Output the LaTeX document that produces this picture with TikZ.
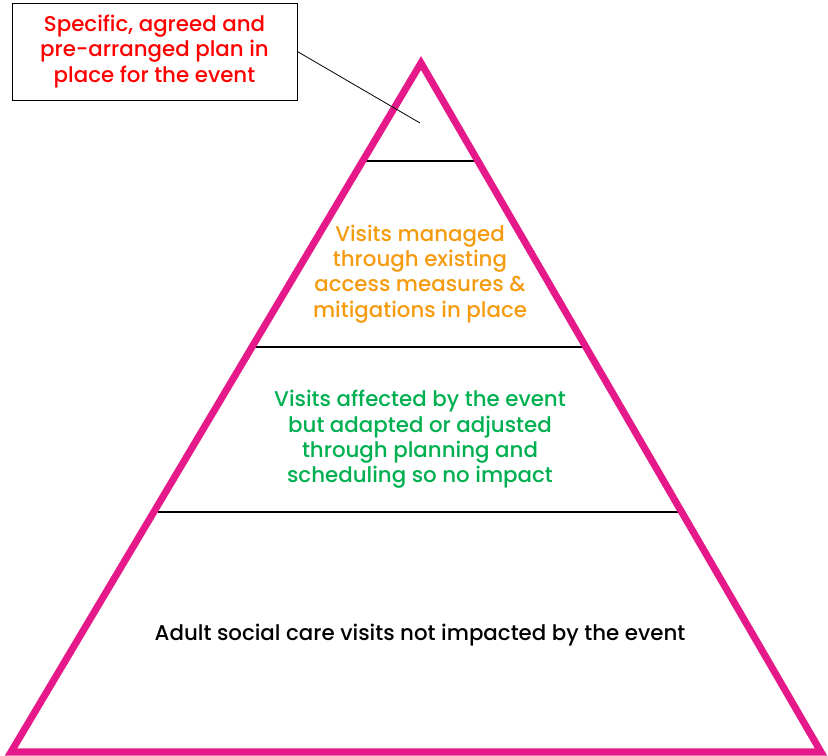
\documentclass[tikz,border=0pt]{standalone}
\usepackage{fontspec}
\setmainfont{Poppins}[UprightFont=* Medium]
\definecolor{pyrpink}{HTML}{E6198A}
\definecolor{tierorange}{HTML}{F59B0F}
\definecolor{tiergreen}{HTML}{00B050}
\begin{document}
\begin{tikzpicture}[x=0.0265cm,y=-0.0265cm]
\tikzstyle{tier}=[align=center,font=\fontsize{16.1}{19.1}\selectfont]
\tikzstyle{divider}=[line width=1.8pt]
\useasboundingbox (0,0) rectangle (828,756);

\coordinate (apex) at (421,63);
\coordinate (bl) at (11,752);
\coordinate (br) at (821,752);
\coordinate (tip) at (420,123);

\node[draw,line width=0.6pt,tier,text=red,minimum width=7.55cm,minimum height=2.57cm] at (154.5,51.5) (plan) {Specific, agreed and\\pre-arranged plan in\\place for the event};
\node[tier,text=tierorange] at (420,274) (managed) {Visits managed\\through existing\\access measures \&\\mitigations in place};
\node[tier,text=tiergreen] at (420,439.5) (adapted) {Visits affected by the event\\but adapted or adjusted\\through planning and\\scheduling so no impact};
\node[tier] at (420,635) (notimpacted) {Adult social care visits not impacted by the event};

\draw[divider] (365,161) -- (476,161);
\draw[divider] (255,347) -- (585,347);
\draw[divider] (158,512) -- (683,512);
\draw[line width=5.3pt,pyrpink,line join=miter] (apex) -- (br) -- (bl) -- cycle;
\draw[line width=0.6pt] (plan.east) -- (tip);
\end{tikzpicture}
\end{document}
